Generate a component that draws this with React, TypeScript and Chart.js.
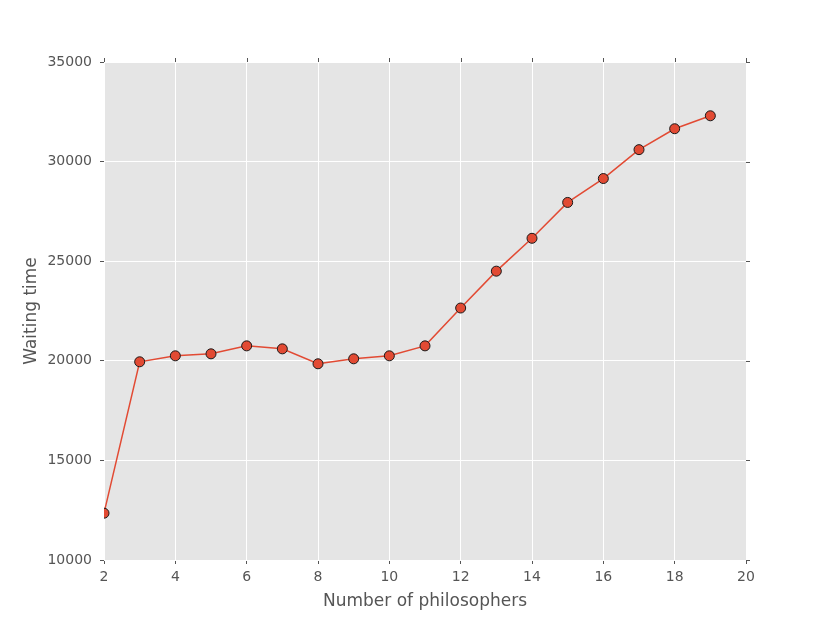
import React, { useEffect, useRef } from "react";
import { Chart, registerables } from "chart.js";

Chart.register(...registerables);

const philosophers = [2, 3, 4, 5, 6, 7, 8, 9, 10, 11, 12, 13, 14, 15, 16, 17, 18, 19];
const waitingTime = [12350, 19950, 20250, 20350, 20750, 20600, 19850, 20100, 20250, 20750, 22650, 24500, 26150, 27950, 29150, 30600, 31650, 32300];
const xTicks = [2, 4, 6, 8, 10, 12, 14, 16, 18, 20];
const yTicks = [10000, 15000, 20000, 25000, 30000, 35000];

const FONT = "'DejaVu Sans', sans-serif";

const bgAndTicks = {
  id: "bgAndTicks",
  beforeDraw(chart: any) {
    const { ctx, chartArea } = chart;
    ctx.save();
    ctx.fillStyle = "#E5E5E5";
    ctx.fillRect(chartArea.left, chartArea.top, chartArea.right - chartArea.left, chartArea.bottom - chartArea.top);
    ctx.restore();
  },
  afterDraw(chart: any) {
    const { ctx, chartArea, scales } = chart;
    ctx.save();
    ctx.strokeStyle = "#555555";
    ctx.lineWidth = 1;
    ctx.beginPath();
    for (const v of xTicks) {
      const px = Math.round(scales.x.getPixelForValue(v)) + 0.5;
      ctx.moveTo(px, chartArea.top);
      ctx.lineTo(px, chartArea.top - 4);
    }
    for (const v of yTicks) {
      const py = Math.round(scales.y.getPixelForValue(v)) + 0.5;
      ctx.moveTo(chartArea.right, py);
      ctx.lineTo(chartArea.right + 4, py);
    }
    ctx.stroke();
    ctx.restore();
  },
};

export default function App() {
  const ref = useRef<HTMLCanvasElement | null>(null);
  useEffect(() => {
    if (!ref.current) return;
    const chart = new Chart(ref.current, {
      type: "line",
      data: {
        datasets: [
          {
            data: philosophers.map((x, i) => ({ x, y: waitingTime[i] })),
            borderColor: "#E24A33",
            borderWidth: 1.5,
            backgroundColor: "#E24A33",
            pointBackgroundColor: "#E24A33",
            pointBorderColor: "#1a1a1a",
            pointBorderWidth: 1,
            pointRadius: 5,
            tension: 0,
          },
        ],
      },
      plugins: [bgAndTicks],
      options: {
        animation: false,
        responsive: false,
        layout: { padding: { top: 62, right: 84, left: 0, bottom: 0 } },
        plugins: { legend: { display: false }, tooltip: { enabled: false } },
        scales: {
          x: {
            type: "linear",
            min: 2,
            max: 20,
            afterBuildTicks: (s: any) => {
              s.ticks = xTicks.map((v) => ({ value: v }));
            },
            afterFit: (s: any) => {
              s.height = 63;
            },
            grid: { color: "#FFFFFF", lineWidth: 1, tickColor: "#555555", tickLength: 4 },
            border: { display: false },
            ticks: {
              color: "#555555",
              font: { family: FONT, size: 14 },
              padding: 5,
              maxRotation: 0,
              callback: (v: any) => String(v),
            },
            title: {
              display: true,
              text: "Number of philosophers",
              color: "#555555",
              font: { family: FONT, size: 17 },
              padding: { top: 4, bottom: 11 },
            },
          },
          y: {
            type: "linear",
            min: 10000,
            max: 35000,
            afterBuildTicks: (s: any) => {
              s.ticks = yTicks.map((v) => ({ value: v }));
            },
            afterFit: (s: any) => {
              s.width = 104;
            },
            grid: { color: "#FFFFFF", lineWidth: 1, tickColor: "#555555", tickLength: 4 },
            border: { display: false },
            ticks: {
              color: "#555555",
              font: { family: FONT, size: 14 },
              padding: 8,
              callback: (v: any) => String(v),
            },
            title: {
              display: true,
              text: "Waiting time",
              color: "#555555",
              font: { family: FONT, size: 17 },
              padding: { top: 21, bottom: 12 },
            },
          },
        },
      },
    } as any);
    return () => chart.destroy();
  }, []);
  return (
    <div style={{ position: "fixed", left: 0, top: 0, width: 830, height: 623, background: "#fff" }}>
      <canvas ref={ref} width={830} height={623} style={{ width: 830, height: 623, display: "block" }} />
    </div>
  );
}
